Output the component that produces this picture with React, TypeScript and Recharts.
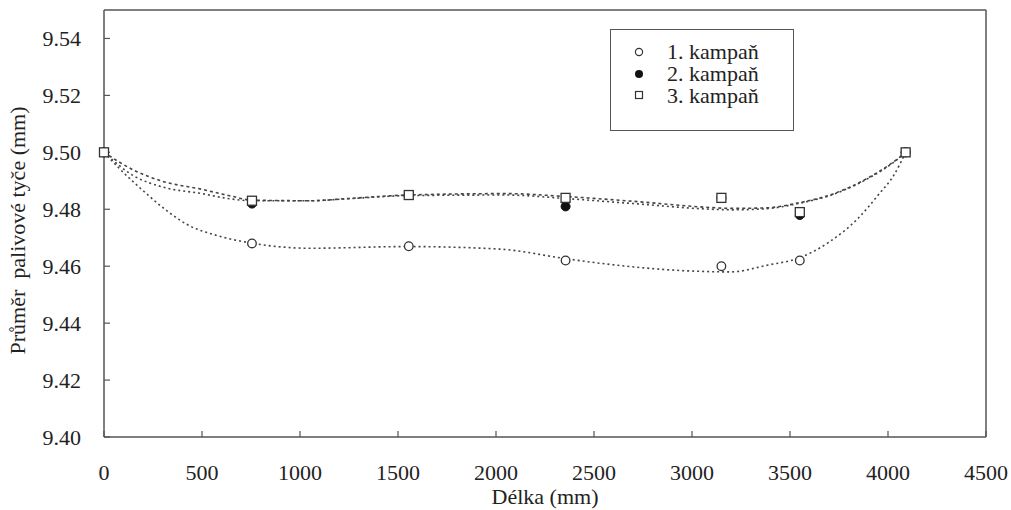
import { ComposedChart, Scatter, Line, XAxis, YAxis, ReferenceLine } from 'recharts'

// measuring positions along the rod (mm)
const positions = [0, 755, 1555, 2355, 3150, 3550, 4090]

// rod diameter per campaign (mm)
const campaign1 = [9.5, 9.468, 9.467, 9.462, 9.46, 9.462, 9.5]
const campaign2 = [9.5, 9.482, 9.485, 9.481, 9.484, 9.478, 9.5]
const campaign3 = [9.5, 9.483, 9.485, 9.484, 9.484, 9.479, 9.5]

// dotted trend curves
const trendX1 = [0, 80, 200, 320, 420, 580, 755, 1050, 1550, 2020, 2350, 2500, 3000, 3200, 3380, 3550, 3700, 3850, 3950, 4030, 4090]
const trend1 = [9.5, 9.4942, 9.4865, 9.4795, 9.4748, 9.4707, 9.4681, 9.4663, 9.4669, 9.466, 9.4627, 9.4613, 9.4583, 9.458, 9.4603, 9.463, 9.4685, 9.477, 9.485, 9.492, 9.5]

const trendX23 = [0, 150, 300, 500, 650, 755, 1050, 1250, 1550, 2050, 2350, 2700, 3100, 3200, 3380, 3540, 3720, 3890, 4060, 4090]
const trend2 = [9.5, 9.4918, 9.4878, 9.4855, 9.4836, 9.483, 9.483, 9.4837, 9.4848, 9.485, 9.4838, 9.482, 9.48, 9.4798, 9.4802, 9.482, 9.4852, 9.4905, 9.4982, 9.5]
const trend3 = [9.5, 9.4938, 9.4898, 9.487, 9.4846, 9.4832, 9.483, 9.4838, 9.485, 9.4855, 9.4845, 9.4828, 9.4806, 9.4803, 9.4805, 9.4822, 9.4854, 9.4907, 9.4983, 9.5]

const xTicks = [0, 500, 1000, 1500, 2000, 2500, 3000, 3500, 4000, 4500]
const yTicks = [9.4, 9.42, 9.44, 9.46, 9.48, 9.5, 9.52, 9.54]

const legendNames = ['1. kampaň', '2. kampaň', '3. kampaň']

const toPoints = (xs: number[], ys: number[]) => xs.map((x, i) => ({ x, y: ys[i] }))

const FONT = 'Liberation Serif, serif'
const INK = '#333'
const AXIS = '#555'
const TEXT = '#222'

const OpenCircle = (p: any) => (
  <circle cx={p.cx} cy={p.cy} r={4.3} fill="#fff" stroke={INK} strokeWidth={1.3} />
)
const FilledCircle = (p: any) => (
  <circle cx={p.cx} cy={p.cy} r={4.5} fill="#111" stroke="#111" strokeWidth={1} />
)
const Square = (p: any) => (
  <rect x={p.cx - 4.5} y={p.cy - 4.5} width={9} height={9} fill="#fff" stroke={INK} strokeWidth={1.3} />
)

function LegendBox() {
  const marks = [
    <circle cx={6} cy={6} r={3.6} fill="#fff" stroke={INK} strokeWidth={1.2} />,
    <circle cx={6} cy={6} r={4} fill="#111" />,
    <rect x={2.5} y={2.5} width={7} height={7} fill="#fff" stroke={INK} strokeWidth={1.2} />,
  ]
  return (
    <div
      style={{
        position: 'absolute',
        left: 610,
        top: 29,
        border: '1.5px solid #555',
        width: 184,
        height: 102,
        boxSizing: 'border-box',
        paddingTop: 11,
        background: '#fff',
        fontFamily: FONT,
        fontSize: 22,
        color: TEXT,
      }}
    >
      {legendNames.map((name, i) => (
        <div key={name} style={{ display: 'flex', alignItems: 'center', height: 21.7 }}>
          <svg width={12} height={12} style={{ marginLeft: 22, marginRight: 22 }}>
            {marks[i]}
          </svg>
          <span style={{ lineHeight: '21px' }}>{name}</span>
        </div>
      ))}
    </div>
  )
}

export default function App() {
  return (
    <div style={{ position: 'absolute', left: 0, top: 0, width: 1011, height: 510, background: '#fff', fontFamily: FONT, fontSize: 22 }}>
      <ComposedChart width={1011} height={510} margin={{ top: 10, right: 25, bottom: 0, left: 34 }} style={{ fontFamily: FONT }}>
        <XAxis
          dataKey="x"
          type="number"
          domain={[0, 4500]}
          ticks={xTicks}
          interval={0}
          height={73}
          tickSize={-6}
          tickMargin={33}
          axisLine={{ stroke: AXIS, strokeWidth: 1.5 }}
          tickLine={{ stroke: AXIS, strokeWidth: 1.2 }}
          tick={{ fill: TEXT, fontSize: 22, fontFamily: FONT }}
          label={{ value: 'Délka (mm)', position: 'insideBottom', offset: 6, fill: TEXT, fontSize: 22, fontFamily: FONT }}
        />
        <YAxis
          type="number"
          domain={[9.4, 9.55]}
          ticks={yTicks}
          interval={0}
          width={70}
          tickSize={-6}
          tickMargin={29}
          tickFormatter={(v: number) => v.toFixed(2)}
          axisLine={{ stroke: AXIS, strokeWidth: 1.5 }}
          tickLine={{ stroke: AXIS, strokeWidth: 1.2 }}
          tick={{ fill: TEXT, fontSize: 22, fontFamily: FONT }}
          label={{
            value: 'Průměr\u00a0 palivové tyče (mm)',
            angle: -90,
            position: 'insideLeft',
            offset: -17,
            dy: 7,
            style: { textAnchor: 'middle' },
            fill: TEXT,
            fontSize: 22,
            fontFamily: FONT,
          }}
        />
        <ReferenceLine y={9.55} stroke={AXIS} strokeWidth={1.5} />
        <ReferenceLine x={4500} stroke={AXIS} strokeWidth={1.5} />
        <Line
          data={toPoints(trendX1, trend1)}
          dataKey="y"
          type="monotone"
          dot={false}
          activeDot={false}
          stroke="#444"
          strokeWidth={1.6}
          strokeDasharray="2 3"
          isAnimationActive={false}
        />
        <Line
          data={toPoints(trendX23, trend2)}
          dataKey="y"
          type="monotone"
          dot={false}
          activeDot={false}
          stroke="#444"
          strokeWidth={1.6}
          strokeDasharray="2 3"
          isAnimationActive={false}
        />
        <Line
          data={toPoints(trendX23, trend3)}
          dataKey="y"
          type="monotone"
          dot={false}
          activeDot={false}
          stroke="#444"
          strokeWidth={1.6}
          strokeDasharray="3 3"
          isAnimationActive={false}
        />
        <Scatter data={toPoints(positions, campaign1)} dataKey="y" shape={OpenCircle} isAnimationActive={false} />
        <Scatter data={toPoints(positions, campaign2)} dataKey="y" shape={FilledCircle} isAnimationActive={false} />
        <Scatter data={toPoints(positions, campaign3)} dataKey="y" shape={Square} isAnimationActive={false} />
      </ComposedChart>
      <LegendBox />
    </div>
  )
}
